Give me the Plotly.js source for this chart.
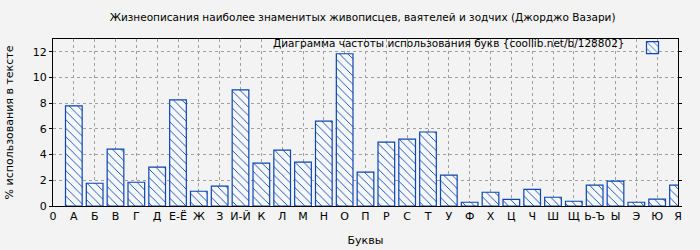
<!DOCTYPE html>
<html><head><meta charset="utf-8">
<script src="https://cdn.plot.ly/plotly-3.0.1.min.js"></script>
<style>html,body{margin:0;padding:0;background:#f3f3f3}</style>
</head><body>
<div id="chart" style="width:700px;height:250px"></div>
<script>
const letters = ['А','Б','В','Г','Д','Е-Ё','Ж','З','И-Й','К','Л','М','Н','О','П','Р','С','Т','У','Ф','Х','Ц','Ч','Ш','Щ','Ь-Ъ','Ы','Э','Ю','Я'];
const values = [7.79,1.77,4.43,1.85,3.02,8.26,1.15,1.54,9.04,3.33,4.35,3.41,6.61,11.85,2.63,4.97,5.21,5.76,2.40,0.29,1.07,0.52,1.30,0.68,0.37,1.62,1.93,0.29,0.53,1.62];
const positions = letters.map((_, i) => i + 1);
const tickPositions = [0].concat(positions);
const tickLabels = ['0'].concat(letters);
const yTicks = [0,2,4,6,8,10,12];

const font = {family: 'DejaVu Sans, sans-serif', size: 11, color: '#000'};
const smallFont = {family: 'DejaVu Sans, sans-serif', size: 10.5, color: '#000'};

const trace = {
  type: 'bar',
  x: positions,
  y: values,
  width: 0.8,
  name: '',
  showlegend: true,
  marker: {
    color: '#ffffff',
    line: {color: '#0a46b4', width: 1.2},
    pattern: {shape: '\\', fgcolor: '#0a46b4', bgcolor: '#f6f8fc', size: 6, solidity: 0.15}
  },
  hoverinfo: 'skip'
};

const layout = {
  width: 700, height: 250,
  paper_bgcolor: '#f3f3f3',
  plot_bgcolor: '#f3f3f3',
  font: font,
  margin: {l: 53, r: 22, t: 39, b: 44},
  title: {text: 'Жизнеописания наиболее знаменитых живописцев, ваятелей и зодчих (Джорджо Вазари)',
          font: smallFont, x: 0.518, xanchor: 'center', y: 0.93, yanchor: 'middle'},
  xaxis: {
    range: [0, 30],
    tickmode: 'array', tickvals: tickPositions, ticktext: tickLabels,
    showgrid: true, gridcolor: '#a0a0a0', griddash: 'dot', gridwidth: 1,
    showline: true, linecolor: '#000', linewidth: 1, mirror: true,
    ticks: '', zeroline: false,
    title: {text: 'Буквы', font: font, standoff: 14},
    tickfont: font, fixedrange: true
  },
  yaxis: {
    range: [0, 13],
    tickmode: 'array', tickvals: yTicks,
    showgrid: true, gridcolor: '#a0a0a0', griddash: 'dot', gridwidth: 1,
    showline: true, linecolor: '#000', linewidth: 1, mirror: 'ticks',
    ticks: 'outside', ticklen: 3, tickcolor: '#000',
    zeroline: false,
    title: {text: '% использования в тексте', font: font, standoff: 16},
    tickfont: font, fixedrange: true
  },
  showlegend: true,
  legend: {
    x: 1.0, xanchor: 'right', y: 1.035, yanchor: 'top',
    bgcolor: 'rgba(0,0,0,0)',
    font: smallFont,
    title: {text: 'Диаграмма частоты использования букв {coollib.net/b/128802}', side: 'left', font: smallFont},
    itemwidth: 30
  },
  bargap: 0
};

Plotly.newPlot('chart', [trace], layout, {displayModeBar: false, staticPlot: true});
</script>
</body></html>
